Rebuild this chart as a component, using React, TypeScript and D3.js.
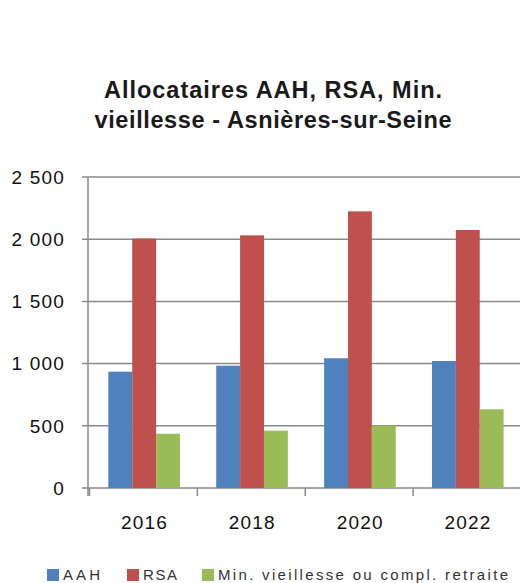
import React from "react";
import * as d3 from "d3";

const years = ["2016", "2018", "2020", "2022"];
const seriesNames = ["AAH", "RSA", "Min. vieillesse ou compl. retraite"];
const aah = [935, 983, 1043, 1021];
const rsa = [2005, 2031, 2224, 2074];
const minVieillesse = [436, 461, 501, 633];
const colors = ["#4F81BD", "#C0504D", "#9BBB59"];
const yTicks = [0, 500, 1000, 1500, 2000, 2500];
const titleLines = ["Allocataires AAH, RSA, Min.", "vieillesse - Asnières-sur-Seine"];

const W = 520;
const H = 583;
const plotLeft = 88;
const plotRight = 519;
const plotTop = 177;
const plotBottom = 488;

export default function App() {
  const series = [aah, rsa, minVieillesse];
  const x = d3.scaleBand<string>().domain(years).range([plotLeft + 1.5, plotRight + 2]).paddingInner(0).paddingOuter(0);
  const inner = d3.scaleBand<number>().domain([0, 1, 2]).range([0, x.bandwidth()]).paddingInner(0).paddingOuter(0.76).align(0.52);
  const y = d3.scaleLinear().domain([0, 2500]).range([plotBottom, plotTop]);
  const fmt = (v: number) => d3.format(",")(v).replace(/,/g, " ");
  const font = "'Liberation Sans', Arial, sans-serif";
  const tickPositions = years.map((yr) => x(yr)!).concat([x(years[years.length - 1])! + x.bandwidth()]);

  const legendItems = [
    { sq: 47, tx: 63, len: 37 },
    { sq: 127, tx: 143, len: 34 },
    { sq: 202, tx: 218, len: 290 },
  ];
  const titleLens = [338, 357];

  return (
    <svg width={W} height={H} style={{ position: "absolute", left: 0, top: 0 }} fontFamily={font}>
      <rect width={W} height={H} fill="#fff" />
      {titleLines.map((t, i) => (
        <text
          key={i}
          x={273}
          y={98 + i * 30}
          textAnchor="middle"
          fontSize={23.5}
          fontWeight="bold"
          fill="#1a1a1a"
          textLength={titleLens[i]}
          lengthAdjust="spacing"
        >
          {t}
        </text>
      ))}
      {yTicks.map((t) => (
        <g key={t}>
          <line x1={plotLeft - 6} x2={W} y1={y(t)} y2={y(t)} stroke="#8a8a8a" strokeWidth={1.5} />
          <text x={65} y={y(t)} dy="0.36em" textAnchor="end" fontSize={19} letterSpacing={1.2} fill="#111">
            {fmt(t)}
          </text>
        </g>
      ))}
      <line x1={plotLeft} x2={plotLeft} y1={plotTop} y2={plotBottom + 8} stroke="#8a8a8a" strokeWidth={1.5} />
      {tickPositions.map((p, i) => (
        <line key={i} x1={p} x2={p} y1={plotBottom} y2={plotBottom + 8} stroke="#8a8a8a" strokeWidth={1.5} />
      ))}
      {years.map((yr, i) => (
        <g key={yr}>
          {series.map((s, j) => (
            <rect
              key={j}
              x={x(yr)! + inner(j)!}
              y={y(s[i])}
              width={inner.bandwidth()}
              height={plotBottom - y(s[i])}
              fill={colors[j]}
            />
          ))}
          <text x={x(yr)! + x.bandwidth() / 2 + 1} y={529} textAnchor="middle" fontSize={19} letterSpacing={1.2} fill="#111">
            {yr}
          </text>
        </g>
      ))}
      {seriesNames.map((n, i) => (
        <g key={n}>
          <rect x={legendItems[i].sq} y={569} width={12} height={12} fill={colors[i]} />
          <text x={legendItems[i].tx} y={580} fontSize={15} fill="#333" textLength={legendItems[i].len} lengthAdjust="spacing">
            {n}
          </text>
        </g>
      ))}
    </svg>
  );
}
